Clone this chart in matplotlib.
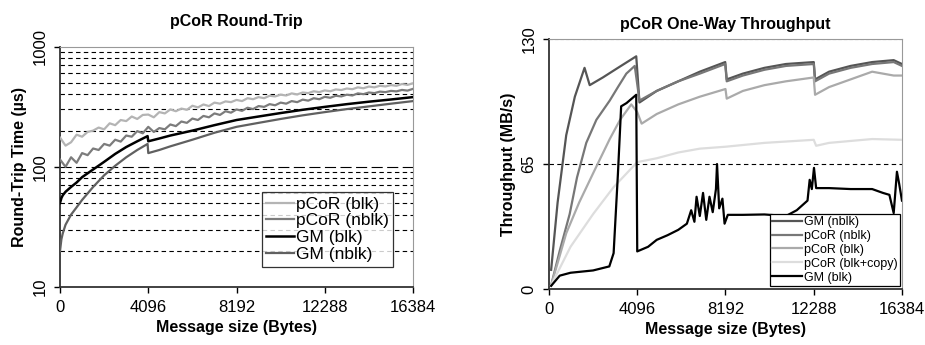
import numpy as np
import matplotlib.pyplot as plt

plt.rcParams['font.family'] = ['Liberation Sans', 'DejaVu Sans']

# --- Round-trip data (message size in bytes, time in us) ---
rt_sizes = np.arange(0, 16385, 256)
rt_pcor_blk = [175, 150, 160, 185, 178, 195, 200, 212, 205, 230, 222, 245, 240, 262, 250, 270,
               272, 258, 285, 278, 300, 290, 305, 298, 322, 312, 330, 320, 342, 335, 350, 345,
               360, 352, 372, 365, 380, 372, 390, 385, 398, 392, 408, 400, 415, 410, 425, 418,
               432, 425, 440, 435, 448, 442, 458, 450, 465, 458, 472, 466, 478, 472, 488, 480,
               495]
rt_pcor_nblk = [115, 100, 120, 108, 130, 125, 142, 138, 155, 150, 168, 162, 182, 178, 198, 190,
                215, 195, 210, 205, 225, 218, 238, 232, 252, 245, 265, 258, 278, 270, 290, 282,
                300, 292, 310, 302, 320, 315, 332, 325, 342, 335, 352, 345, 362, 355, 372, 365,
                382, 375, 390, 385, 398, 392, 408, 402, 415, 410, 422, 418, 428, 424, 436, 430,
                445]
rt_gm_sizes = [0, 64, 128, 256, 512, 768, 1024, 1536, 2048, 2560, 3072, 3584, 4064, 4096,
               4608, 5120, 6144, 7168, 8192, 9216, 10240, 11264, 12288, 13312, 14336, 15360, 16384]
rt_gm_blk = [50, 55, 58, 62, 68, 74, 82, 95, 110, 128, 146, 163, 180, 163,
             172, 182, 200, 222, 245, 262, 280, 298, 315, 332, 348, 363, 380]
rt_gm_nblk = [20, 25, 28, 33, 40, 46, 53, 68, 85, 102, 120, 138, 155, 130,
              138, 148, 168, 192, 215, 232, 250, 268, 285, 302, 318, 335, 352]

# --- One-way throughput data (message size in bytes, MB/s) ---
tp_gm_nblk_x = [100, 400, 800, 1200, 1650, 1890, 2500, 3200, 4050, 4200, 5000, 6000, 7000,
                8180, 8250, 9000, 10000, 11000, 12290, 12350, 13000, 14000, 15000, 16000, 16384]
tp_gm_nblk = [10, 45, 80, 100, 115, 106, 110, 115, 121, 97, 103, 108, 113,
              118, 109, 112, 115, 117, 118, 109, 113, 116, 118, 119, 117]
tp_pcor_nblk_x = [100, 500, 960, 1300, 1730, 2200, 2820, 3200, 3590, 3980, 4200, 5000, 6000,
                  7000, 8180, 8250, 9000, 10000, 11000, 12290, 12350, 13000, 14000, 15000, 16000, 16384]
tp_pcor_nblk = [2, 20, 39, 58, 76, 88, 98, 105, 112, 116, 98, 103, 108,
                112, 117, 108, 111, 114, 116, 117, 108, 112, 115, 117, 118, 116]
tp_pcor_blk_x = [100, 800, 1400, 2040, 2820, 3300, 3820, 4096, 4300, 5000, 6000, 7000, 8192,
                 8250, 9000, 10000, 11000, 12288, 12350, 13000, 14000, 15000, 16000, 16384]
tp_pcor_blk = [2, 29, 45, 60, 78, 88, 96, 92, 86, 91, 96, 100, 104,
               99, 103, 106, 108, 110, 101, 105, 109, 113, 111, 111]
tp_copy_x = [100, 1000, 2048, 3000, 4096, 5000, 6000, 7000, 8192, 10000, 12288, 12400,
             13000, 14000, 15000, 16384]
tp_copy = [2, 22, 39, 53, 66, 68, 71, 73, 74, 76, 77.6, 74.5, 76, 77, 78, 77.6]
tp_gm_blk_x = [100, 500, 1000, 2048, 2800, 3000, 3200, 3350, 3600, 4050, 4096, 4600, 5000,
               5500, 6000, 6400, 6600, 6750, 6850, 7000, 7150, 7300, 7450, 7600, 7750, 7800,
               7900, 8050, 8150, 8300, 9000, 10000, 11000, 11500, 12000, 12100, 12200, 12300,
               12400, 13000, 14000, 15000, 15500, 15800, 16000, 16150, 16250, 16384]
tp_gm_blk = [1.7, 7, 8.5, 9.7, 11.8, 18.7, 60, 95, 96.7, 101, 19.6, 22, 25.6,
             28, 30.8, 34, 41, 35, 48, 38, 50, 36, 48, 40, 52, 65,
             42, 47, 34, 38.6, 38.6, 38.8, 38, 41, 46, 56.8, 52, 63,
             52.5, 52.5, 52, 52, 50, 49, 39.5, 61, 55, 46]

fig = plt.figure(figsize=(9.25, 3.45), dpi=100)
ax1 = fig.add_axes([0.0649, 0.168, 0.3816, 0.697])
ax2 = fig.add_axes([0.5935, 0.162, 0.3816, 0.725])

xticks = [0, 4096, 8192, 12288, 16384]

# ---------------- Round-trip ----------------
ax1.set_yscale('log')
ax1.set_ylim(10, 1000)
ax1.set_xlim(0, 16384)
for decade in (10, 100):
    for m in range(2, 10):
        ax1.axhline(decade * m, color='black', lw=0.8, ls=(0, (4, 3)), zorder=1)
ax1.axhline(100, color='black', lw=0.8, ls=(0, (10, 4)), zorder=1)
ax1.plot(rt_sizes, rt_pcor_blk, color='#b4b4b4', lw=1.6, label='pCoR (blk)', zorder=3)
ax1.plot(rt_sizes, rt_pcor_nblk, color='#7c7c7c', lw=1.6, label='pCoR (nblk)', zorder=3)
ax1.plot(rt_gm_sizes, rt_gm_blk, color='black', lw=1.8, label='GM (blk)', zorder=4)
ax1.plot(rt_gm_sizes, rt_gm_nblk, color='#606060', lw=1.6, label='GM (nblk)', zorder=4)
ax1.set_title('pCoR Round-Trip', fontsize=11.5, fontweight='bold', pad=15)
ax1.set_xlabel('Message size (Bytes)', fontsize=11.5, fontweight='bold', labelpad=4)
ax1.set_ylabel('Round-Trip Time (\u00b5s)', fontsize=11.5, fontweight='bold', labelpad=4)
ax1.set_yticks([10, 100, 1000])
ax1.set_yticklabels(['10', '100', '1000'], rotation=90, va='center')
ax1.yaxis.set_minor_locator(plt.NullLocator())
leg1 = ax1.legend(loc='lower right', bbox_to_anchor=(0.943, 0.085), fontsize=12.5,
                  frameon=True, fancybox=False, handlelength=1.6, handletextpad=0.1,
                  labelspacing=0.1, borderpad=0.25, borderaxespad=0)
leg1.get_frame().set_edgecolor('black')
leg1.get_frame().set_linewidth(0.9)

# ---------------- Throughput ----------------
ax2.set_xlim(0, 16384)
ax2.set_ylim(0, 130)
ax2.axhline(65, color='black', lw=0.8, ls=(0, (4, 3)), zorder=1)
ax2.axhline(130, color='#888888', lw=0.8, ls=(0, (3, 2)), zorder=1)
ax2.plot(tp_gm_nblk_x, tp_gm_nblk, color='#555555', lw=1.6, label='GM (nblk)', zorder=3)
ax2.plot(tp_pcor_nblk_x, tp_pcor_nblk, color='#777777', lw=1.6, label='pCoR (nblk)', zorder=3)
ax2.plot(tp_pcor_blk_x, tp_pcor_blk, color='#aaaaaa', lw=1.6, label='pCoR (blk)', zorder=3)
ax2.plot(tp_copy_x, tp_copy, color='#dddddd', lw=1.6, label='pCoR (blk+copy)', zorder=3)
ax2.plot(tp_gm_blk_x, tp_gm_blk, color='black', lw=1.6, label='GM (blk)', zorder=4)
ax2.set_title('pCoR One-Way Throughput', fontsize=11.5, fontweight='bold', pad=7)
ax2.set_xlabel('Message size (Bytes)', fontsize=11.5, fontweight='bold', labelpad=4)
ax2.set_ylabel('Throughput (MB/s)', fontsize=11.5, fontweight='bold', labelpad=4)
ax2.set_yticks([0, 65, 130])
ax2.set_yticklabels(['0', '65', '130'], rotation=90, va='center')
leg2 = ax2.legend(loc='lower right', bbox_to_anchor=(0.994, 0.012), fontsize=9,
                  frameon=True, fancybox=False, handlelength=2.4, handletextpad=0.1,
                  labelspacing=0.15, borderpad=0.2, borderaxespad=0)
leg2.get_frame().set_edgecolor('black')
leg2.get_frame().set_linewidth(0.9)
leg2.get_frame().set_alpha(1)

for ax in (ax1, ax2):
    ax.set_xticks(xticks)
    ax.set_xticklabels([str(t) for t in xticks])
    ax.tick_params(axis='both', labelsize=12, length=4, width=1, direction='out',
                   colors='black', pad=5)
    ax.spines['left'].set_color('#333333')
    ax.spines['bottom'].set_color('#333333')
    ax.spines['left'].set_linewidth(1.3)
    ax.spines['bottom'].set_linewidth(1.3)
    ax.spines['right'].set_color('#999999')
    ax.spines['top'].set_color('#999999')
    ax.spines['right'].set_linewidth(0.8)
    ax.spines['top'].set_linewidth(0.8)

fig.savefig('out.png', dpi=100)
